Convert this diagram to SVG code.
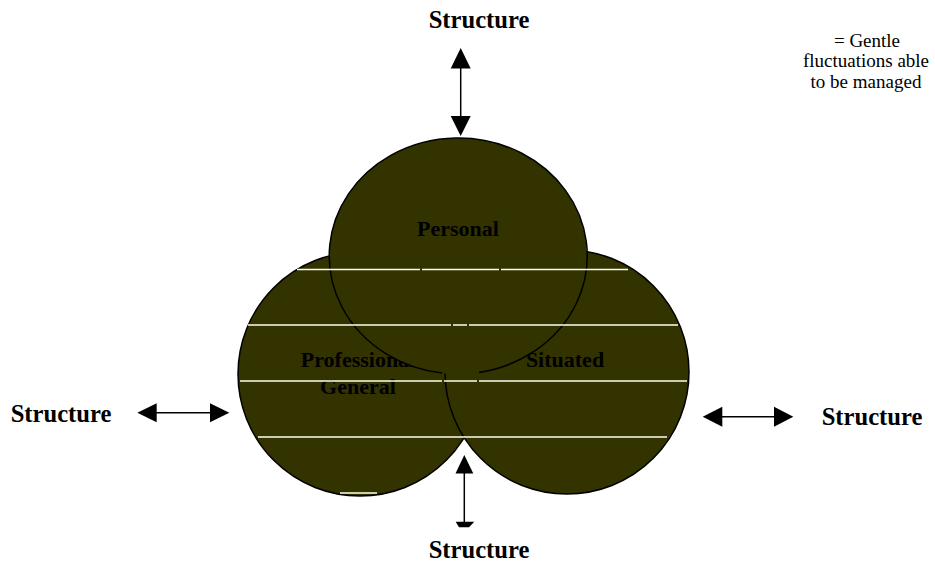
<svg xmlns="http://www.w3.org/2000/svg" width="935" height="565" viewBox="0 0 935 565">
<style>
.blob{fill:#333300;stroke:#000;stroke-width:1.5}
.fillonly{fill:#333300;stroke:none}
.outline{fill:none;stroke:#000;stroke-width:1.5}
.lbl{font-family:"Liberation Serif","Times New Roman",serif;font-weight:bold;font-size:22px;fill:#000;text-anchor:middle}
.st{font-family:"Liberation Serif","Times New Roman",serif;font-weight:bold;font-size:24.6px;fill:#000;text-anchor:middle}
.leg{font-family:"Liberation Serif","Times New Roman",serif;font-size:19px;fill:#000;text-anchor:middle}
.hatch{stroke:#fffff0;stroke-width:1.5;fill:none}
.conn{stroke:#000;stroke-width:1.5;fill:none}
.head{fill:#000}
</style>
<rect width="935" height="565" fill="#fff"/>
<g id="node-professional">
<ellipse class="blob" cx="360" cy="374" rx="122" ry="122"/>
<text class="lbl" x="358" y="367">Professional</text>
<text class="lbl" x="358" y="394">General</text>
</g>
<g id="node-situated">
<ellipse class="blob" cx="567" cy="372" rx="122" ry="122"/>
</g>
<g id="node-personal">
<ellipse class="fillonly" cx="458" cy="256" rx="129" ry="118"/>
<path class="outline" d="M479,372.4 A129,118 0 1 0 442,373"/>
<text class="lbl" x="458" y="236">Personal</text>
</g>
<g id="node-situated-label">
<text class="lbl" x="565" y="367">Situated</text>
</g>
<g id="hatching">
<path class="hatch" d="M297,269.5H420M422,269.5H499M501,269.5H628M248,325H451M453,325H467M469,325H678M240,381H442M444,381H477M479,381H687M258,437H667M340,493H377"/>
</g>
<g id="structure-top"><text class="st" x="479" y="28">Structure</text></g>
<g id="structure-left"><text class="st" x="61" y="421.5">Structure</text></g>
<g id="structure-right"><text class="st" x="872" y="425">Structure</text></g>
<g id="structure-bottom"><text class="st" x="479" y="558">Structure</text></g>
<g id="legend">
<text class="leg" x="867" y="46.5">= Gentle</text>
<text class="leg" x="866" y="67">fluctuations able</text>
<text class="leg" x="866" y="87.5">to be managed</text>
</g>
<g id="connectors">
<line class="conn" x1="460.7" y1="66" x2="460.7" y2="118"/>
<polygon class="head" points="460.7,48 450.7,68.5 470.7,68.5"/>
<polygon class="head" points="460.7,136 450.7,116 470.7,116"/>
<line class="conn" x1="464.3" y1="472" x2="464.3" y2="522"/>
<polygon class="head" points="464.3,455 455.5,473.5 473.3,473.5"/>
<polygon class="head" points="455.7,521.7 474.3,521.7 469,527.3 459,527.3"/>
<line class="conn" x1="155" y1="412.7" x2="212" y2="412.7"/>
<polygon class="head" points="137.3,412.7 156.7,403.3 156.7,422.3"/>
<polygon class="head" points="229.3,412.7 210,403.3 210,422.3"/>
<line class="conn" x1="720" y1="416.7" x2="776" y2="416.7"/>
<polygon class="head" points="702.7,416.7 722.3,406.7 722.3,426.7"/>
<polygon class="head" points="793.3,416.7 774,406.7 774,426.7"/>
</g>
</svg>
